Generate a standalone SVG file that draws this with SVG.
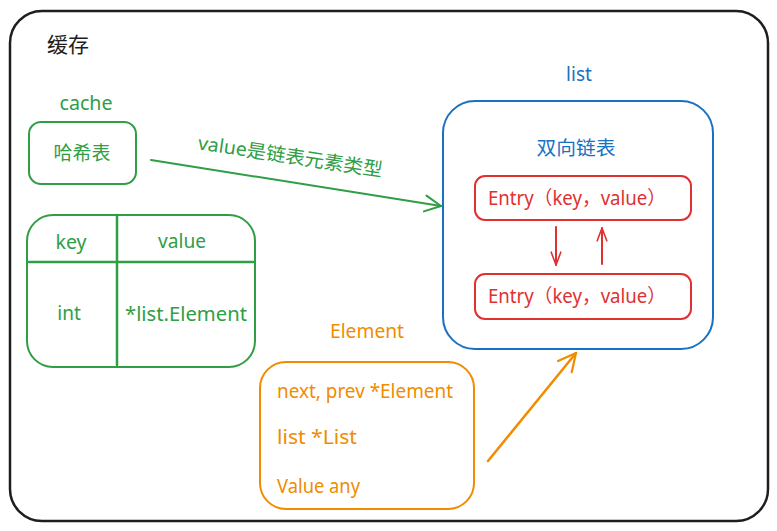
<svg xmlns="http://www.w3.org/2000/svg" width="777" height="531" viewBox="0 0 777 531">
<style>
text{font-family:"Noto Sans","Noto Sans CJK SC",sans-serif;font-size:19px}
.g{fill:#2f9e44}.b{fill:#1971c2}.r{fill:#e03131}.o{fill:#f08c00}.k{fill:#1e1e1e}
.sg{stroke:#2f9e44}.sb{stroke:#1971c2}.sr{stroke:#e03131}.so{stroke:#f08c00}
rect,line,path{fill:none;stroke-width:2;stroke-linecap:round;stroke-linejoin:round}
</style>
<defs>
<marker id="ag" viewBox="0 0 20 20" refX="18" refY="10" markerWidth="20" markerHeight="20" markerUnits="userSpaceOnUse" orient="auto"><path d="M2 2 L18 10 L2 18" stroke="#2f9e44"/></marker>
<marker id="ar" viewBox="0 0 20 20" refX="18" refY="10" markerWidth="16" markerHeight="16" markerUnits="userSpaceOnUse" orient="auto"><path d="M2 4 L18 10 L2 16" stroke="#e03131"/></marker>
<marker id="ao" viewBox="0 0 20 20" refX="18" refY="10" markerWidth="22" markerHeight="22" markerUnits="userSpaceOnUse" orient="auto"><path d="M2 2 L18 10 L2 18" stroke="#f08c00"/></marker>
</defs>
<rect x="0" y="0" width="777" height="531" style="fill:#fff;stroke:none"/>
<g id="frame">
<rect x="10" y="11" width="758" height="510" rx="32" style="stroke:#1e1e1e;stroke-width:2.5"/>
<text class="k" x="47" y="52" style="font-size:21px">缓存</text>
</g>
<g id="cache">
<text class="g" x="86" y="110" text-anchor="middle" textLength="53" lengthAdjust="spacingAndGlyphs">cache</text>
<rect class="sg" x="29" y="122" width="107" height="62" rx="12"/>
<text class="g" x="82" y="160" text-anchor="middle">哈希表</text>
</g>
<g id="table">
<rect class="sg" x="27" y="215" width="228" height="152" rx="26"/>
<line class="sg" x1="117" y1="215" x2="117" y2="365" style="stroke-width:2.5"/>
<line class="sg" x1="29" y1="262" x2="253" y2="262" style="stroke-width:2.5"/>
<text class="g" x="71" y="249" text-anchor="middle" textLength="31" lengthAdjust="spacingAndGlyphs">key</text>
<text class="g" x="182" y="248" text-anchor="middle" textLength="48" lengthAdjust="spacingAndGlyphs">value</text>
<text class="g" x="69" y="320" text-anchor="middle">int</text>
<text class="g" x="186" y="321" text-anchor="middle" textLength="122" lengthAdjust="spacingAndGlyphs">*list.Element</text>
</g>
<g id="list">
<text class="b" x="579" y="81" text-anchor="middle">list</text>
<rect class="sb" x="443" y="101" width="270" height="248" rx="32"/>
<text class="b" x="576" y="155" text-anchor="middle" textLength="79" lengthAdjust="spacingAndGlyphs">双向链表</text>
</g>
<g id="entry1">
<rect class="sr" x="475" y="176" width="216" height="44" rx="10"/>
<text class="r" x="577" y="205" text-anchor="middle" textLength="178" lengthAdjust="spacingAndGlyphs">Entry（key，value）</text>
</g>
<g id="entry2">
<rect class="sr" x="475" y="274" width="216" height="45" rx="10"/>
<text class="r" x="577" y="303" text-anchor="middle" textLength="178" lengthAdjust="spacingAndGlyphs">Entry（key，value）</text>
</g>
<g id="element">
<text class="o" x="367" y="338" text-anchor="middle" textLength="74" lengthAdjust="spacingAndGlyphs">Element</text>
<rect class="so" x="260" y="362" width="214" height="147" rx="26"/>
<text class="o" x="277" y="398" textLength="176" lengthAdjust="spacingAndGlyphs">next, prev *Element</text>
<text class="o" x="277" y="444" textLength="80" lengthAdjust="spacingAndGlyphs">list *List</text>
<text class="o" x="277" y="493" textLength="83" lengthAdjust="spacingAndGlyphs">Value any</text>
</g>
<g id="connectors">
<line class="sg" x1="151" y1="160" x2="441" y2="206" marker-end="url(#ag)"/>
<text class="g" x="290" y="163" text-anchor="middle" transform="rotate(8.5 290 158)" textLength="186" lengthAdjust="spacingAndGlyphs">value是链表元素类型</text>
<line class="sr" x1="556" y1="227" x2="556" y2="265" marker-end="url(#ar)"/>
<line class="sr" x1="602" y1="264" x2="602" y2="228" marker-end="url(#ar)"/>
<line class="so" x1="488" y1="461" x2="576" y2="353" marker-end="url(#ao)" style="stroke-width:2.5"/>
</g>
</svg>
